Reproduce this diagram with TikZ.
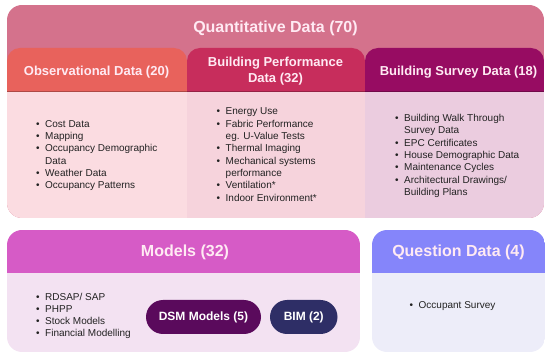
\documentclass[tikz,border=0pt]{standalone}
\usepackage{fontspec}
\setmainfont{Liberation Sans}
\definecolor{quantcol}{HTML}{D4728C}
\definecolor{obshd}{HTML}{E8625C}
\definecolor{perfhd}{HTML}{C72D5C}
\definecolor{survhd}{HTML}{970C62}
\definecolor{obsbd}{HTML}{FBDCE1}
\definecolor{perfbd}{HTML}{F6D3DC}
\definecolor{survbd}{HTML}{EBCCDF}
\definecolor{modhd}{HTML}{D65BC6}
\definecolor{modbd}{HTML}{F3E2F2}
\definecolor{queshd}{HTML}{8585FA}
\definecolor{quesbd}{HTML}{EDEDF9}
\definecolor{dsmcol}{HTML}{5A0A5C}
\definecolor{bimcol}{HTML}{2E2E66}
\definecolor{txtcol}{HTML}{222222}
\definecolor{hdtxt}{HTML}{FFEAF3}
\begin{document}
\begin{tikzpicture}[x=1pt,y=-1pt,
  bigtitle/.style={font=\fontsize{16}{18}\selectfont\bfseries, text=hdtxt, inner sep=0},
  midtitle/.style={font=\fontsize{13}{16}\selectfont\bfseries, text=hdtxt, inner sep=0, align=center},
  listtext/.style={anchor=north west, inner sep=0, text=txtcol},
  pill/.style={rounded corners=17pt, minimum height=34pt, inner sep=0, text=white,
    font=\fontsize{12}{14}\selectfont\bfseries}]
\useasboundingbox (0,0) rectangle (550,358);
% ---- top group ----
\begin{scope}
  \clip[rounded corners=15pt] (7,5) rectangle (544,218);
  \fill[quantcol] (7,5) rectangle (544,218);
  \fill[obshd, rounded corners=13pt] (7,48) rectangle (187,120);
  \fill[perfhd, rounded corners=13pt] (187,48) rectangle (365,120);
  \fill[survhd, rounded corners=13pt] (365,48) rectangle (544,120);
  \fill[obshd!75!black] (7,90.8) rectangle (187,92.3);
  \fill[perfhd!75!black] (187,90.8) rectangle (365,92.3);
  \fill[survhd!75!black] (365,90.8) rectangle (544,92.3);
  \fill[obsbd] (7,92.3) rectangle (187,218);
  \fill[perfbd] (187,92.3) rectangle (365,218);
  \fill[survbd] (365,92.3) rectangle (544,218);
\end{scope}
\node[bigtitle] (quant) at (275.5,28) {Quantitative Data (70)};
\node[midtitle] (obs) at (96.5,72) {Observational Data (20)};
\node[midtitle] (perf) at (275.5,71) {Building Performance\\Data (32)};
\node[midtitle] (surv) at (458.5,72) {Building Survey Data (18)};
\node[listtext, font=\fontsize{10}{12.35}\selectfont] (obslist) at (36,118.3) {%
  \begin{tabular}{@{}l@{\hspace{5.5pt}}l@{}}
  \textbullet & Cost Data\\
  \textbullet & Mapping\\
  \textbullet & Occupancy Demographic\\
   & Data\\
  \textbullet & Weather Data\\
  \textbullet & Occupancy Patterns
  \end{tabular}};
\node[listtext, font=\fontsize{10}{12.35}\selectfont] (perflist) at (216.5,105.9) {%
  \begin{tabular}{@{}l@{\hspace{5.5pt}}l@{}}
  \textbullet & Energy Use\\
  \textbullet & Fabric Performance\\
   & eg. U-Value Tests\\
  \textbullet & Thermal Imaging\\
  \textbullet & Mechanical systems\\
   & performance\\
  \textbullet & Ventilation*\\
  \textbullet & Indoor Environment*
  \end{tabular}};
\node[listtext, font=\fontsize{10}{12.35}\selectfont] (survlist) at (395,112.6) {%
  \begin{tabular}{@{}l@{\hspace{5.5pt}}l@{}}
  \textbullet & Building Walk Through\\
   & Survey Data\\
  \textbullet & EPC Certificates\\
  \textbullet & House Demographic Data\\
  \textbullet & Maintenance Cycles\\
  \textbullet & Architectural Drawings/\\
   & Building Plans
  \end{tabular}};
% ---- models ----
\begin{scope}
  \clip[rounded corners=15pt] (7,230) rectangle (360,352);
  \fill[modhd] (7,230) rectangle (360,273);
  \fill[modbd] (7,273) rectangle (360,352);
\end{scope}
\node[bigtitle] (models) at (185,252.5) {Models (32)};
\node[listtext, font=\fontsize{10}{12}\selectfont] (modlist) at (36,291.6) {%
  \begin{tabular}{@{}l@{\hspace{5.5pt}}l@{}}
  \textbullet & RDSAP/ SAP\\
  \textbullet & PHPP\\
  \textbullet & Stock Models\\
  \textbullet & Financial Modelling
  \end{tabular}};
\node[pill, fill=dsmcol, minimum width=115pt] (dsm) at (203.5,317) {DSM Models (5)};
\node[pill, fill=bimcol, minimum width=67.5pt] (bim) at (303.75,317) {BIM (2)};
% ---- question ----
\begin{scope}
  \clip[rounded corners=15pt] (372,230) rectangle (545,352);
  \fill[queshd] (372,230) rectangle (545,273);
  \fill[quesbd] (372,273) rectangle (545,352);
\end{scope}
\node[bigtitle] (ques) at (458.5,252.5) {Question Data (4)};
\node[listtext, font=\fontsize{10}{12}\selectfont] (queslist) at (409.5,300) {%
  \begin{tabular}{@{}l@{\hspace{5.5pt}}l@{}}
  \textbullet & Occupant Survey
  \end{tabular}};
\end{tikzpicture}
\end{document}
